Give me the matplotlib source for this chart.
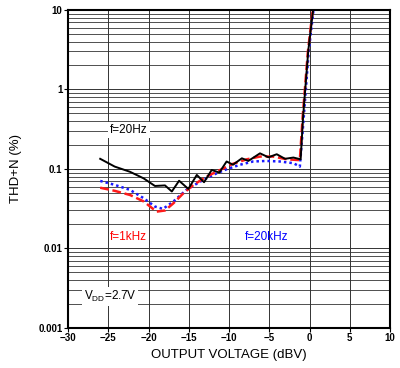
import matplotlib
matplotlib.use('Agg')
import matplotlib.pyplot as plt
from matplotlib.ticker import FixedLocator, LogLocator, NullFormatter

plt.rcParams['font.family'] = ['Liberation Sans', 'DejaVu Sans']

# f = 20 Hz
x_20hz = [-26.0, -24.2, -22.3, -20.6, -19.2, -17.95, -17.1, -16.2, -15.05, -14.0, -13.1,
          -12.15, -11.2, -10.3, -9.5, -8.4, -7.6, -6.15, -5.1, -4.07, -3.04, -2.0, -1.1,
          -0.8, -0.15, 0.5]
y_20hz = [0.134, 0.107, 0.092, 0.076, 0.061, 0.062, 0.052, 0.071, 0.056, 0.084, 0.068,
          0.097, 0.090, 0.124, 0.113, 0.136, 0.126, 0.157, 0.140, 0.153, 0.134, 0.139, 0.132,
          0.45, 3.1, 11.0]

# f = 1 kHz
x_1k = [-26.0, -24.2, -22.3, -20.6, -19.0, -17.95, -16.9, -15.7, -14.4, -12.8, -11.1,
        -9.5, -7.8, -6.15, -4.5, -2.8, -1.2, -0.85, -0.2, 0.45]
y_1k = [0.058, 0.053, 0.047, 0.039, 0.029, 0.030, 0.037, 0.049, 0.063, 0.080, 0.097,
        0.116, 0.132, 0.143, 0.143, 0.132, 0.129, 0.45, 3.0, 11.0]

# f = 20 kHz
x_20k = [-26.0, -24.2, -22.3, -20.6, -19.2, -18.2, -16.9, -15.3, -13.6, -12.0, -10.3,
         -8.6, -7.0, -5.3, -3.7, -2.0, -1.2, -0.75, -0.1, 0.55]
y_20k = [0.0706, 0.063, 0.0545, 0.0428, 0.0336, 0.0314, 0.039, 0.0545, 0.069, 0.084, 0.099,
         0.113, 0.124, 0.126, 0.124, 0.118, 0.107, 0.40, 3.0, 11.0]

xticks = [-30, -25, -20, -15, -10, -5, 0, 5, 10]
yticks = [0.001, 0.01, 0.1, 1, 10]
ylabels = ['0.001', '0.01', '0.1', '1', '10']

fig = plt.figure(figsize=(4.0, 3.68), dpi=100)
ax = fig.add_axes([0.17, 0.109, 0.805, 0.864])

ax.set_yscale('log')
ax.set_xlim(-30, 10)
ax.set_ylim(0.001, 10)

ax.plot(x_20k, y_20k, color='#1a1aff', lw=1.8, ls=(0, (1, 1.2)), zorder=3)
ax.plot(x_1k, y_1k, color='#ff1a1a', lw=1.8, ls=(0, (3.5, 1.5)), zorder=3)
ax.plot(x_20hz, y_20hz, color='black', lw=1.4, zorder=4)

ax.xaxis.set_major_locator(FixedLocator(xticks))
ax.yaxis.set_major_locator(FixedLocator(yticks))
ax.set_yticklabels(ylabels)
ax.yaxis.set_minor_locator(LogLocator(base=10, subs=range(2, 10)))
ax.yaxis.set_minor_formatter(NullFormatter())
ax.grid(True, which='major', color='#333333', lw=0.7)
ax.grid(True, which='minor', axis='y', color='#333333', lw=0.6)
ax.tick_params(which='major', length=3, width=0.8, labelsize=7, pad=1)
ax.tick_params(which='minor', length=0)
for lab in ax.get_xticklabels() + ax.get_yticklabels():
    lab.set_fontweight('bold')
for s in ax.spines.values():
    s.set_linewidth(1.5)

ax.set_xlabel('OUTPUT VOLTAGE (dBV)', fontsize=9.5, labelpad=4)
ax.set_ylabel('THD+N (%)', fontsize=9.5, labelpad=12)

bbox = dict(facecolor='white', edgecolor='none', pad=1.5)
ax.text(-24.8, 0.31, 'f=20Hz', fontsize=8.5, va='center', ha='left', bbox=bbox, zorder=5)
ax.text(-24.8, 0.0141, 'f=1kHz', fontsize=8.5, color='red', va='center', ha='left')
ax.text(-8.0, 0.0141, 'f=20kHz', fontsize=8.5, color='blue', va='center', ha='left')
ax.text(-28.0, 0.00248, r'V$_{\mathregular{DD}}$=2.7V', fontsize=8.5, va='center', ha='left',
        bbox=bbox, zorder=5)

fig.savefig('out.png', dpi=100)
